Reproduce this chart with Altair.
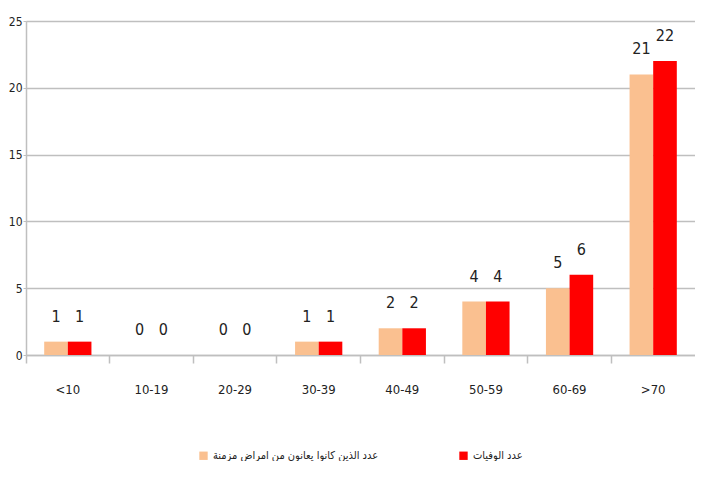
import altair as alt
import pandas as pd

categories = ["<10", "10-19", "20-29", "30-39", "40-49", "50-59", "60-69", ">70"]
series_names = ["عدد الذين كانوا يعانون من امراض مزمنة", "عدد الوفيات"]
chronic = [1, 0, 0, 1, 2, 4, 5, 21]
deaths = [1, 0, 0, 1, 2, 4, 6, 22]
colors = ["#FAC090", "#FF0000"]

rows = []
for c, a, b in zip(categories, chronic, deaths):
    rows.append({"age": c, "series": series_names[0], "value": a})
    rows.append({"age": c, "series": series_names[1], "value": b})
df = pd.DataFrame(rows)

FONT = "DejaVu Sans Condensed, Liberation Sans, sans-serif"

x = alt.X("age:N", sort=categories, title=None,
          scale=alt.Scale(paddingInner=0, paddingOuter=0),
          axis=alt.Axis(labelAngle=0, bandPosition=0, domainColor="#bfbfbf",
                        tickColor="#bfbfbf", tickSize=8, tickWidth=1.5, domainWidth=1.5,
                        labelPadding=20, labelFontSize=13, labelColor="#222222",
                        labelFont=FONT, grid=False))
xo = alt.XOffset("series:N", sort=series_names,
                 scale=alt.Scale(paddingInner=0, paddingOuter=0.77))

bars = alt.Chart(df).mark_bar().encode(
    x=x,
    xOffset=xo,
    y=alt.Y("value:Q", title=None,
            scale=alt.Scale(domain=[0, 25], nice=False),
            axis=alt.Axis(values=[0, 5, 10, 15, 20, 25], grid=True, gridColor="#bfbfbf",
                          gridWidth=1.5, domainColor="#bfbfbf", domainWidth=1.5,
                          tickColor="#bfbfbf", tickSize=3, labelFontSize=12,
                          labelFont=FONT, labelColor="#222222", labelPadding=1)),
    color=alt.Color("series:N", sort=series_names,
                    scale=alt.Scale(domain=series_names, range=colors),
                    legend=alt.Legend(title=None, orient="none", direction="horizontal",
                                      legendX=172, legendY=429, symbolType="square",
                                      symbolSize=70, symbolStrokeWidth=0,
                                      labelFont=FONT, labelFontSize=11,
                                      labelColor="#222222", columnPadding=79,
                                      labelLimit=300)),
)

labels = alt.Chart(df).mark_text(dy=-25, fontSize=16, font=FONT, color="#222222").encode(
    x=alt.X("age:N", sort=categories),
    xOffset=xo,
    y="value:Q",
    text="value:Q",
)

chart = (bars + labels).properties(
    width=669, height=334,
    padding={"left": 0, "top": 7, "right": 0, "bottom": 0},
).configure_view(stroke=None).configure(background="white")

chart.save("out.html", embed_options={"renderer": "svg", "actions": False})
